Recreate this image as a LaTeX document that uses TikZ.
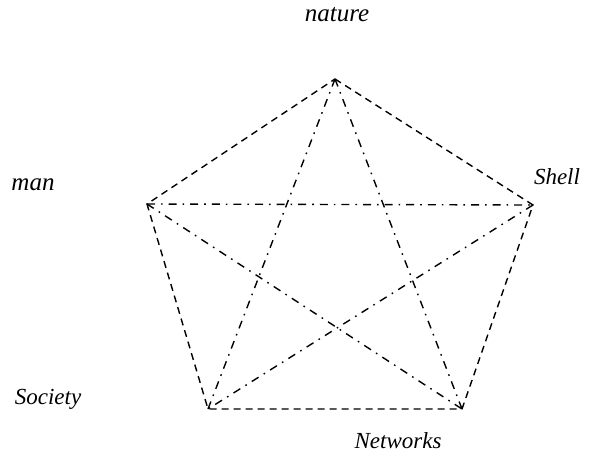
\documentclass[tikz,border=0pt]{standalone}
\usepackage{fontspec}
\setmainfont{Liberation Serif}
\begin{document}
\begin{tikzpicture}[x=1pt,y=-1pt,
  big/.style={font=\fontsize{25}{29}\selectfont\itshape},
  small/.style={font=\fontsize{23}{26}\selectfont\itshape},
  edge/.style={line width=1.4pt,dash pattern=on 7pt off 5pt},
  chord/.style={line width=1.4pt,dash pattern=on 8pt off 6pt on 1.6pt off 6pt}]
\useasboundingbox (0,0) rectangle (590,455);
% pentagon corners
\coordinate (N) at (335,79);
\coordinate (M) at (147,204);
\coordinate (S) at (533,205);
\coordinate (So) at (208,409);
\coordinate (Ne) at (462,409);
% outer ring
\draw[edge] (N) -- (S) -- (Ne) -- (So) -- (M) -- cycle;
% inner star
\draw[chord] (N) -- (So);
\draw[chord] (N) -- (Ne);
\draw[chord] (M) -- (S);
\draw[chord] (M) -- (Ne);
\draw[chord] (S) -- (So);
% labels
\node[big] (tn) at (337,15) {nature};
\node[big] (tm) at (33,185) {man};
\node[small] (ts) at (557,177) {Shell};
\node[small] (tso) at (48,399) {Society};
\node[small] (tne) at (398,441) {Networks};
\end{tikzpicture}
\end{document}
